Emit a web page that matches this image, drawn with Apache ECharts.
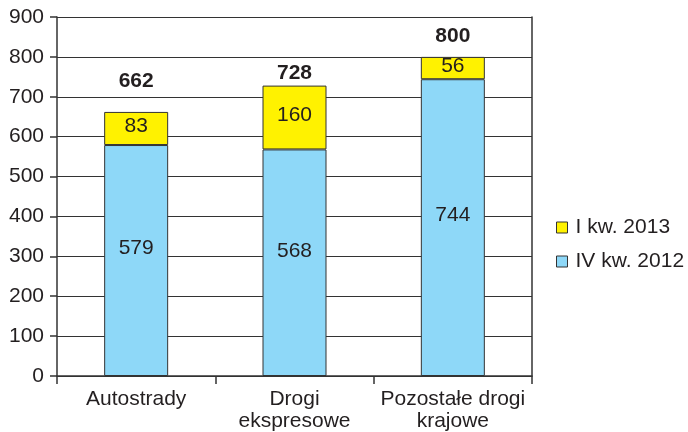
<!DOCTYPE html>
<html>
<head>
<meta charset="utf-8">
<script src="https://cdn.jsdelivr.net/npm/echarts@6/dist/echarts.min.js"></script>
<style>
  html, body { margin: 0; padding: 0; background: #fff; }
  #chart { width: 688px; height: 432px; }
</style>
</head>
<body>
<div id="chart"></div>
<script>
// Road categories and quarterly values
const categories = ['Autostrady', 'Drogi\nekspresowe', 'Pozostałe drogi\nkrajowe'];
const q4_2012 = [579, 568, 744];
const q1_2013 = [83, 160, 56];
const totals = [662, 728, 800];
const yTicks = [0, 100, 200, 300, 400, 500, 600, 700, 800, 900];

// Gap between each stack top and its total label
const totalGap = [20, 2, 10];

const ink = '#231f20';
const font = '"Liberation Sans", Arial, Helvetica, sans-serif';
const fs = 21;

const chart = echarts.init(document.getElementById('chart'), null, { renderer: 'canvas' });

chart.setOption({
  animation: false,
  backgroundColor: '#ffffff',
  textStyle: { fontFamily: font, color: ink },
  grid: { left: 57, right: 156, top: 17, bottom: 55, containLabel: false },
  legend: {
    orient: 'vertical',
    left: 551,
    top: 212,
    itemWidth: 11,
    itemHeight: 11,
    itemGap: 13,
    icon: 'rect',
    data: ['I kw. 2013', 'IV kw. 2012'],
    textStyle: { fontFamily: font, fontSize: fs, color: ink, lineHeight: 21, padding: [0, 0, 0, 3] },
    itemStyle: { borderColor: '#333', borderWidth: 1 }
  },
  xAxis: {
    type: 'category',
    data: categories,
    axisLine: { show: true, lineStyle: { color: '#333', width: 1.5 } },
    axisTick: { show: true, length: 8, alignWithLabel: false, lineStyle: { color: '#333', width: 1.5 } },
    axisLabel: { fontFamily: font, fontSize: fs, color: ink, margin: 12, lineHeight: 22, interval: 0 },
    splitLine: { show: false }
  },
  yAxis: [
    {
      type: 'value',
      min: yTicks[0],
      max: yTicks[yTicks.length - 1],
      interval: 100,
      axisLine: { show: true, lineStyle: { color: '#333', width: 1.5 } },
      axisTick: { show: true, length: 7, lineStyle: { color: '#333', width: 1.5 } },
      axisLabel: { fontFamily: font, fontSize: fs, color: ink, margin: 13 },
      splitLine: { show: true, lineStyle: { color: '#333', width: 1.2 } }
    },
    {
      // right-hand frame edge of the plot area
      type: 'value',
      position: 'right',
      min: yTicks[0],
      max: yTicks[yTicks.length - 1],
      interval: 100,
      axisLine: { show: true, lineStyle: { color: '#333', width: 1.5 } },
      axisTick: { show: false },
      axisLabel: { show: false },
      splitLine: { show: false }
    }
  ],
  series: [
    {
      name: 'IV kw. 2012',
      type: 'bar',
      stack: 'roads',
      barWidth: 64,
      data: q4_2012,
      itemStyle: { color: '#8ed8f8', borderColor: '#333', borderWidth: 1 },
      label: { show: true, position: 'inside', offset: [0, -12], fontFamily: font, fontSize: fs, color: ink }
    },
    {
      name: 'I kw. 2013',
      type: 'bar',
      stack: 'roads',
      barWidth: 64,
      data: q1_2013,
      itemStyle: { color: '#fff200', borderColor: '#333', borderWidth: 1 },
      label: { show: true, position: 'inside', offset: [0, -2], fontFamily: font, fontSize: fs, color: ink }
    },
    {
      name: 'Razem',
      type: 'scatter',
      symbolSize: 0,
      silent: true,
      itemStyle: { color: ink, opacity: 1 },
      data: totals.map((v, i) => ({
        value: v,
        label: { distance: totalGap[i] }
      })),
      label: {
        show: true,
        position: 'top',
        fontFamily: font,
        fontSize: fs,
        fontWeight: 'bold',
        color: ink,
        opacity: 1,
        formatter: p => String(p.value)
      }
    }
  ]
});
</script>
</body>
</html>
